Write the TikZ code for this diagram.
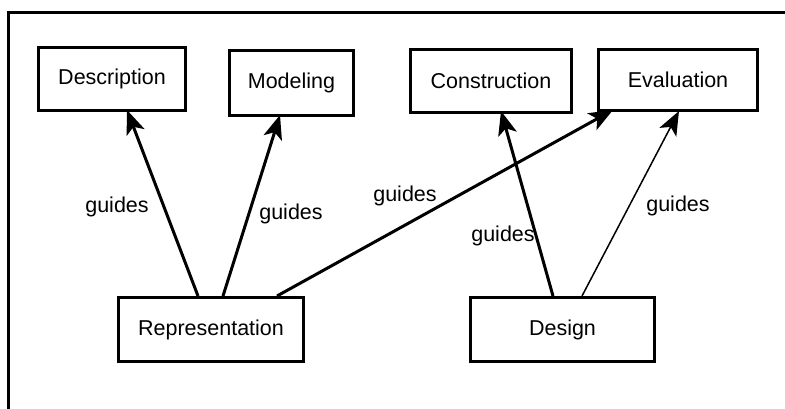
\documentclass[tikz,border=0pt]{standalone}
\usepackage{fontspec}
\setmainfont{Liberation Sans}
\usetikzlibrary{arrows.meta}
\begin{document}
\begin{tikzpicture}[x=1pt,y=-1pt,
  every node/.style={font=\fontsize{21.5}{25}\selectfont, inner sep=0pt},
  block/.style={draw, line width=3pt, rectangle},
  rel/.style={line width=3pt, -{Stealth[length=24pt,width=19pt,inset=6pt]}},
  relthin/.style={line width=1.5pt, -{Stealth[length=24pt,width=19pt,inset=6pt]}},
  tag/.style={}]
  \useasboundingbox (0,0) rectangle (785,408);
  % outer frame, open to the right and bottom
  \draw[line width=3pt] (8.5,410) -- (8.5,12.5) -- (790,12.5);

  % boxes
  \node[block, minimum width=147pt, minimum height=63pt] (desc) at (112,79) {Description};
  \node[block, minimum width=124pt, minimum height=65pt] (model) at (291.5,83) {Modeling};
  \node[block, minimum width=161pt, minimum height=63pt] (constr) at (491,81) {Construction};
  \node[block, minimum width=159pt, minimum height=61pt] (eval) at (678,80) {Evaluation};
  \node[block, minimum width=185pt, minimum height=64pt] (rep) at (211,329.5) {Representation};
  \node[block, minimum width=184pt, minimum height=64pt] (design) at (562.5,329.5) {Design};

  % relations
  \draw[rel] ([xshift=-13pt]rep.north) -- ([xshift=15pt,yshift=2pt]desc.south);
  \draw[rel] ([xshift=12pt]rep.north) -- ([xshift=-11.5pt,yshift=2pt]model.south);
  \draw[rel] ([xshift=66pt]rep.north) -- ([xshift=-65pt,yshift=2pt]eval.south);
  \draw[rel] ([xshift=-9.5pt]design.north) -- ([xshift=10pt,yshift=3pt]constr.south);
  \draw[relthin] ([xshift=19.5pt]design.north) -- ([xshift=1pt,yshift=1pt]eval.south);

  % labels
  \node[tag] (l1) at (117,207) {guides};
  \node[tag] (l2) at (291,214) {guides};
  \node[tag] (l3) at (405,196) {guides};
  \node[tag] (l4) at (503,236) {guides};
  \node[tag] (l5) at (678,206) {guides};
\end{tikzpicture}
\end{document}
